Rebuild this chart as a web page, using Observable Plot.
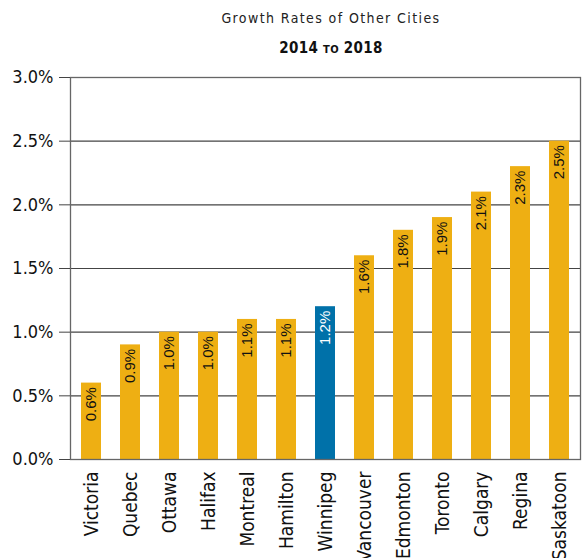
<!DOCTYPE html>
<html><head><meta charset="utf-8">
<script src="https://cdn.jsdelivr.net/npm/d3@7"></script>
<script src="https://cdn.jsdelivr.net/npm/@observablehq/plot@0.6"></script>
<style>
body{margin:0;background:#fff;}
#wrap{position:relative;width:582px;height:558px;}
#t1{position:absolute;top:10px;left:0;width:582px;padding-left:80px;box-sizing:border-box;text-align:center;font:14px "DejaVu Sans Condensed","DejaVu Sans",sans-serif;font-stretch:condensed;letter-spacing:1.4px;color:#222;}
#t2{position:absolute;top:39px;left:0;width:582px;padding-left:80px;box-sizing:border-box;text-align:center;font:bold 15px "DejaVu Sans Condensed","DejaVu Sans",sans-serif;font-stretch:condensed;color:#111;letter-spacing:0.3px;}
#t2 .sc{font-size:11px;}
#chart{position:absolute;top:60px;left:0;}
svg text{font-stretch:condensed;}
</style></head>
<body><div id="wrap">
<div id="t1">Growth Rates of Other Cities</div>
<div id="t2">2014 <span class="sc">TO</span> 2018</div>
<div id="chart"></div>
</div>
<script>
const cities = ["Victoria","Quebec","Ottawa","Halifax","Montreal","Hamilton","Winnipeg","Vancouver","Edmonton","Toronto","Calgary","Regina","Saskatoon"];
const rates = [0.6,0.9,1.0,1.0,1.1,1.1,1.2,1.6,1.8,1.9,2.1,2.3,2.5];
const highlight = "Winnipeg";
const yTicks = [0,0.5,1.0,1.5,2.0,2.5,3.0];

const data = cities.map((c,i)=>({city:c, rate:rates[i]}));
const fmt = d => d.toFixed(1) + "%";
const gold = "#EEAF13", blue = "#0071A9";
const condensed = '"DejaVu Sans Condensed","DejaVu Sans",sans-serif';

const chart = Plot.plot({
  width: 582, height: 498,
  marginTop: 17, marginBottom: 99, marginLeft: 70, marginRight: 2,
  style: {fontFamily: condensed, color:"#111", background:"#fff"},
  x: {domain: cities, paddingInner: 0.49, paddingOuter: 0.245, label: null},
  y: {domain: [0,3], ticks: yTicks, label: null, tickFormat: fmt},
  marks: [
    Plot.ruleY(yTicks, {stroke: "#444", strokeWidth: 1.2}),
    Plot.barY(data, {x: "city", y: "rate", fill: d => d.city === highlight ? blue : gold}),
    Plot.frame({stroke: "#666", strokeWidth: 1.3}),
    Plot.text(data, {x: "city", y: "rate", text: d => fmt(d.rate), rotate: -90, textAnchor: "end", dy: 4,
      fill: d => d.city === highlight ? "#fff" : "#111",
      fontSize: 15, fontFamily: '"Liberation Sans", Arial, sans-serif'}),
    Plot.axisY({ticks: yTicks, tickFormat: fmt, tickSize: 11, tickPadding: 6, fontSize: 18, stroke: "#444", label: null}),
    Plot.axisX({tickSize: 0, tickPadding: 12, tickRotate: -90, fontSize: 19, label: null})
  ]
});
document.getElementById("chart").appendChild(chart);
</script>
</body></html>
